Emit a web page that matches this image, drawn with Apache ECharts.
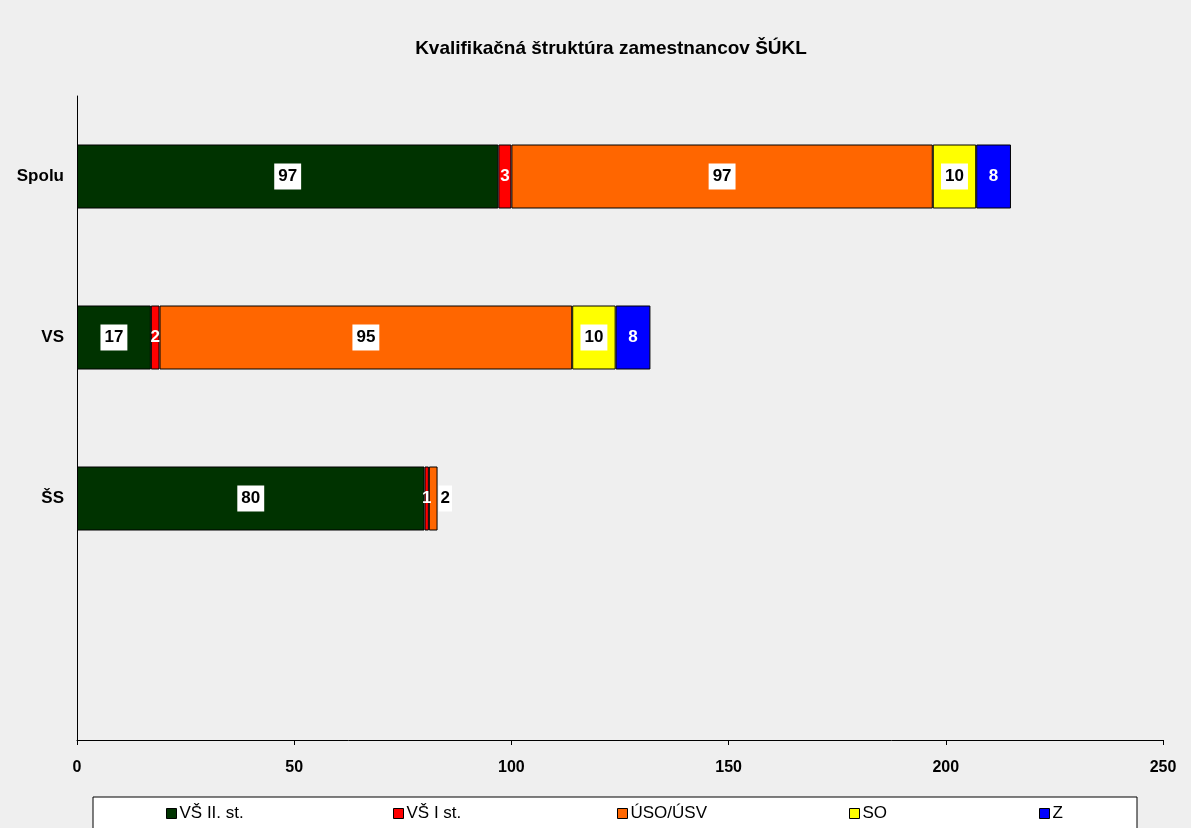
<!DOCTYPE html>
<html>
<head>
<meta charset="utf-8">
<script src="https://cdn.jsdelivr.net/npm/echarts@6/dist/echarts.min.js"></script>
<style>
  html, body { margin: 0; padding: 0; background: #efefef; }
  #chart { width: 1191px; height: 828px; }
</style>
</head>
<body>
<div id="chart"></div>
<script>
// kategórie zdola nahor
var categories = ['', 'ŠS', 'VS', 'Spolu'];
var seriesNames = ['VŠ II. st.', 'VŠ I st.', 'ÚSO/ÚSV', 'SO', 'Z'];
var vs2 = [null, 80, 17, 97];
var vs1 = [null, 1, 2, 3];
var uso = [null, 2, 95, 97];
var so = [null, null, 10, 10];
var z = [null, null, 8, 8];
var xTicks = [0, 50, 100, 150, 200, 250];

var colors = ['#003300', '#ff0000', '#ff6600', '#ffff00', '#0000ff'];
var FONT = '"Liberation Sans", Arial, sans-serif';

var boxLabel = {
  show: true,
  color: '#000',
  fontFamily: FONT,
  fontWeight: 'bold',
  fontSize: 17,
  backgroundColor: '#fff',
  padding: [5, 4, 4, 4]
};
var whiteLabel = {
  show: true,
  color: '#fff',
  fontFamily: FONT,
  fontWeight: 'bold',
  fontSize: 17
};

function mk(name, idx, values, label) {
  return {
    name: name,
    type: 'bar',
    stack: 'total',
    barWidth: 64,
    itemStyle: { color: colors[idx], borderColor: '#000', borderWidth: 1 },
    label: label,
    data: values.map(function (v) { return v == null ? '-' : v; })
  };
}

var series = [
  mk(seriesNames[0], 0, vs2, boxLabel),
  mk(seriesNames[1], 1, vs1, whiteLabel),
  mk(seriesNames[2], 2, uso, boxLabel),
  mk(seriesNames[3], 3, so, boxLabel),
  mk(seriesNames[4], 4, z, whiteLabel)
];
// ŠS: úzky oranžový segment - popis vpravo
series[2].data[1] = { value: uso[1], label: { position: 'right', distance: 1, padding: [5, 2, 4, 2] } };

var legendX = [161, 388, 612, 844, 1034];
var legends = seriesNames.map(function (n, i) {
  return {
    data: [n],
    left: legendX[i],
    top: 800,
    itemWidth: 10,
    itemHeight: 10,
    itemGap: 4,
    icon: 'rect',
    itemStyle: { borderColor: '#000', borderWidth: 1 },
    textStyle: { fontFamily: FONT, fontSize: 17, color: '#000', padding: [0, 0, 0, -2] },
    selectedMode: false
  };
});

var chart = echarts.init(document.getElementById('chart'));
chart.setOption({
  backgroundColor: '#efefef',
  animation: false,
  color: colors,
  title: {
    text: 'Kvalifikačná štruktúra zamestnancov ŠÚKL',
    left: 606,
    textAlign: 'center',
    top: 34,
    textStyle: { fontFamily: FONT, fontWeight: 'bold', fontSize: 19, color: '#000' }
  },
  graphic: [{
    type: 'rect',
    shape: { x: 93, y: 797, width: 1044, height: 50 },
    style: { fill: '#fff', stroke: '#000', lineWidth: 1 },
    z: 0
  }],
  legend: legends,
  grid: { left: 77, right: 28, top: 96, bottom: 88 },
  xAxis: {
    type: 'value',
    min: xTicks[0],
    max: xTicks[xTicks.length - 1],
    interval: 50,
    splitLine: { show: false },
    axisLine: { show: true, lineStyle: { color: '#000', width: 1 } },
    axisTick: { show: true, length: 5, lineStyle: { color: '#000' } },
    axisLabel: { fontFamily: FONT, fontWeight: 'bold', fontSize: 16, color: '#000', margin: 20 }
  },
  yAxis: {
    type: 'category',
    data: categories,
    axisLine: { show: true, lineStyle: { color: '#000', width: 1 } },
    axisTick: { show: false },
    axisLabel: { fontFamily: FONT, fontWeight: 'bold', fontSize: 17, color: '#000', margin: 13 }
  },
  series: series
});
</script>
</body>
</html>
